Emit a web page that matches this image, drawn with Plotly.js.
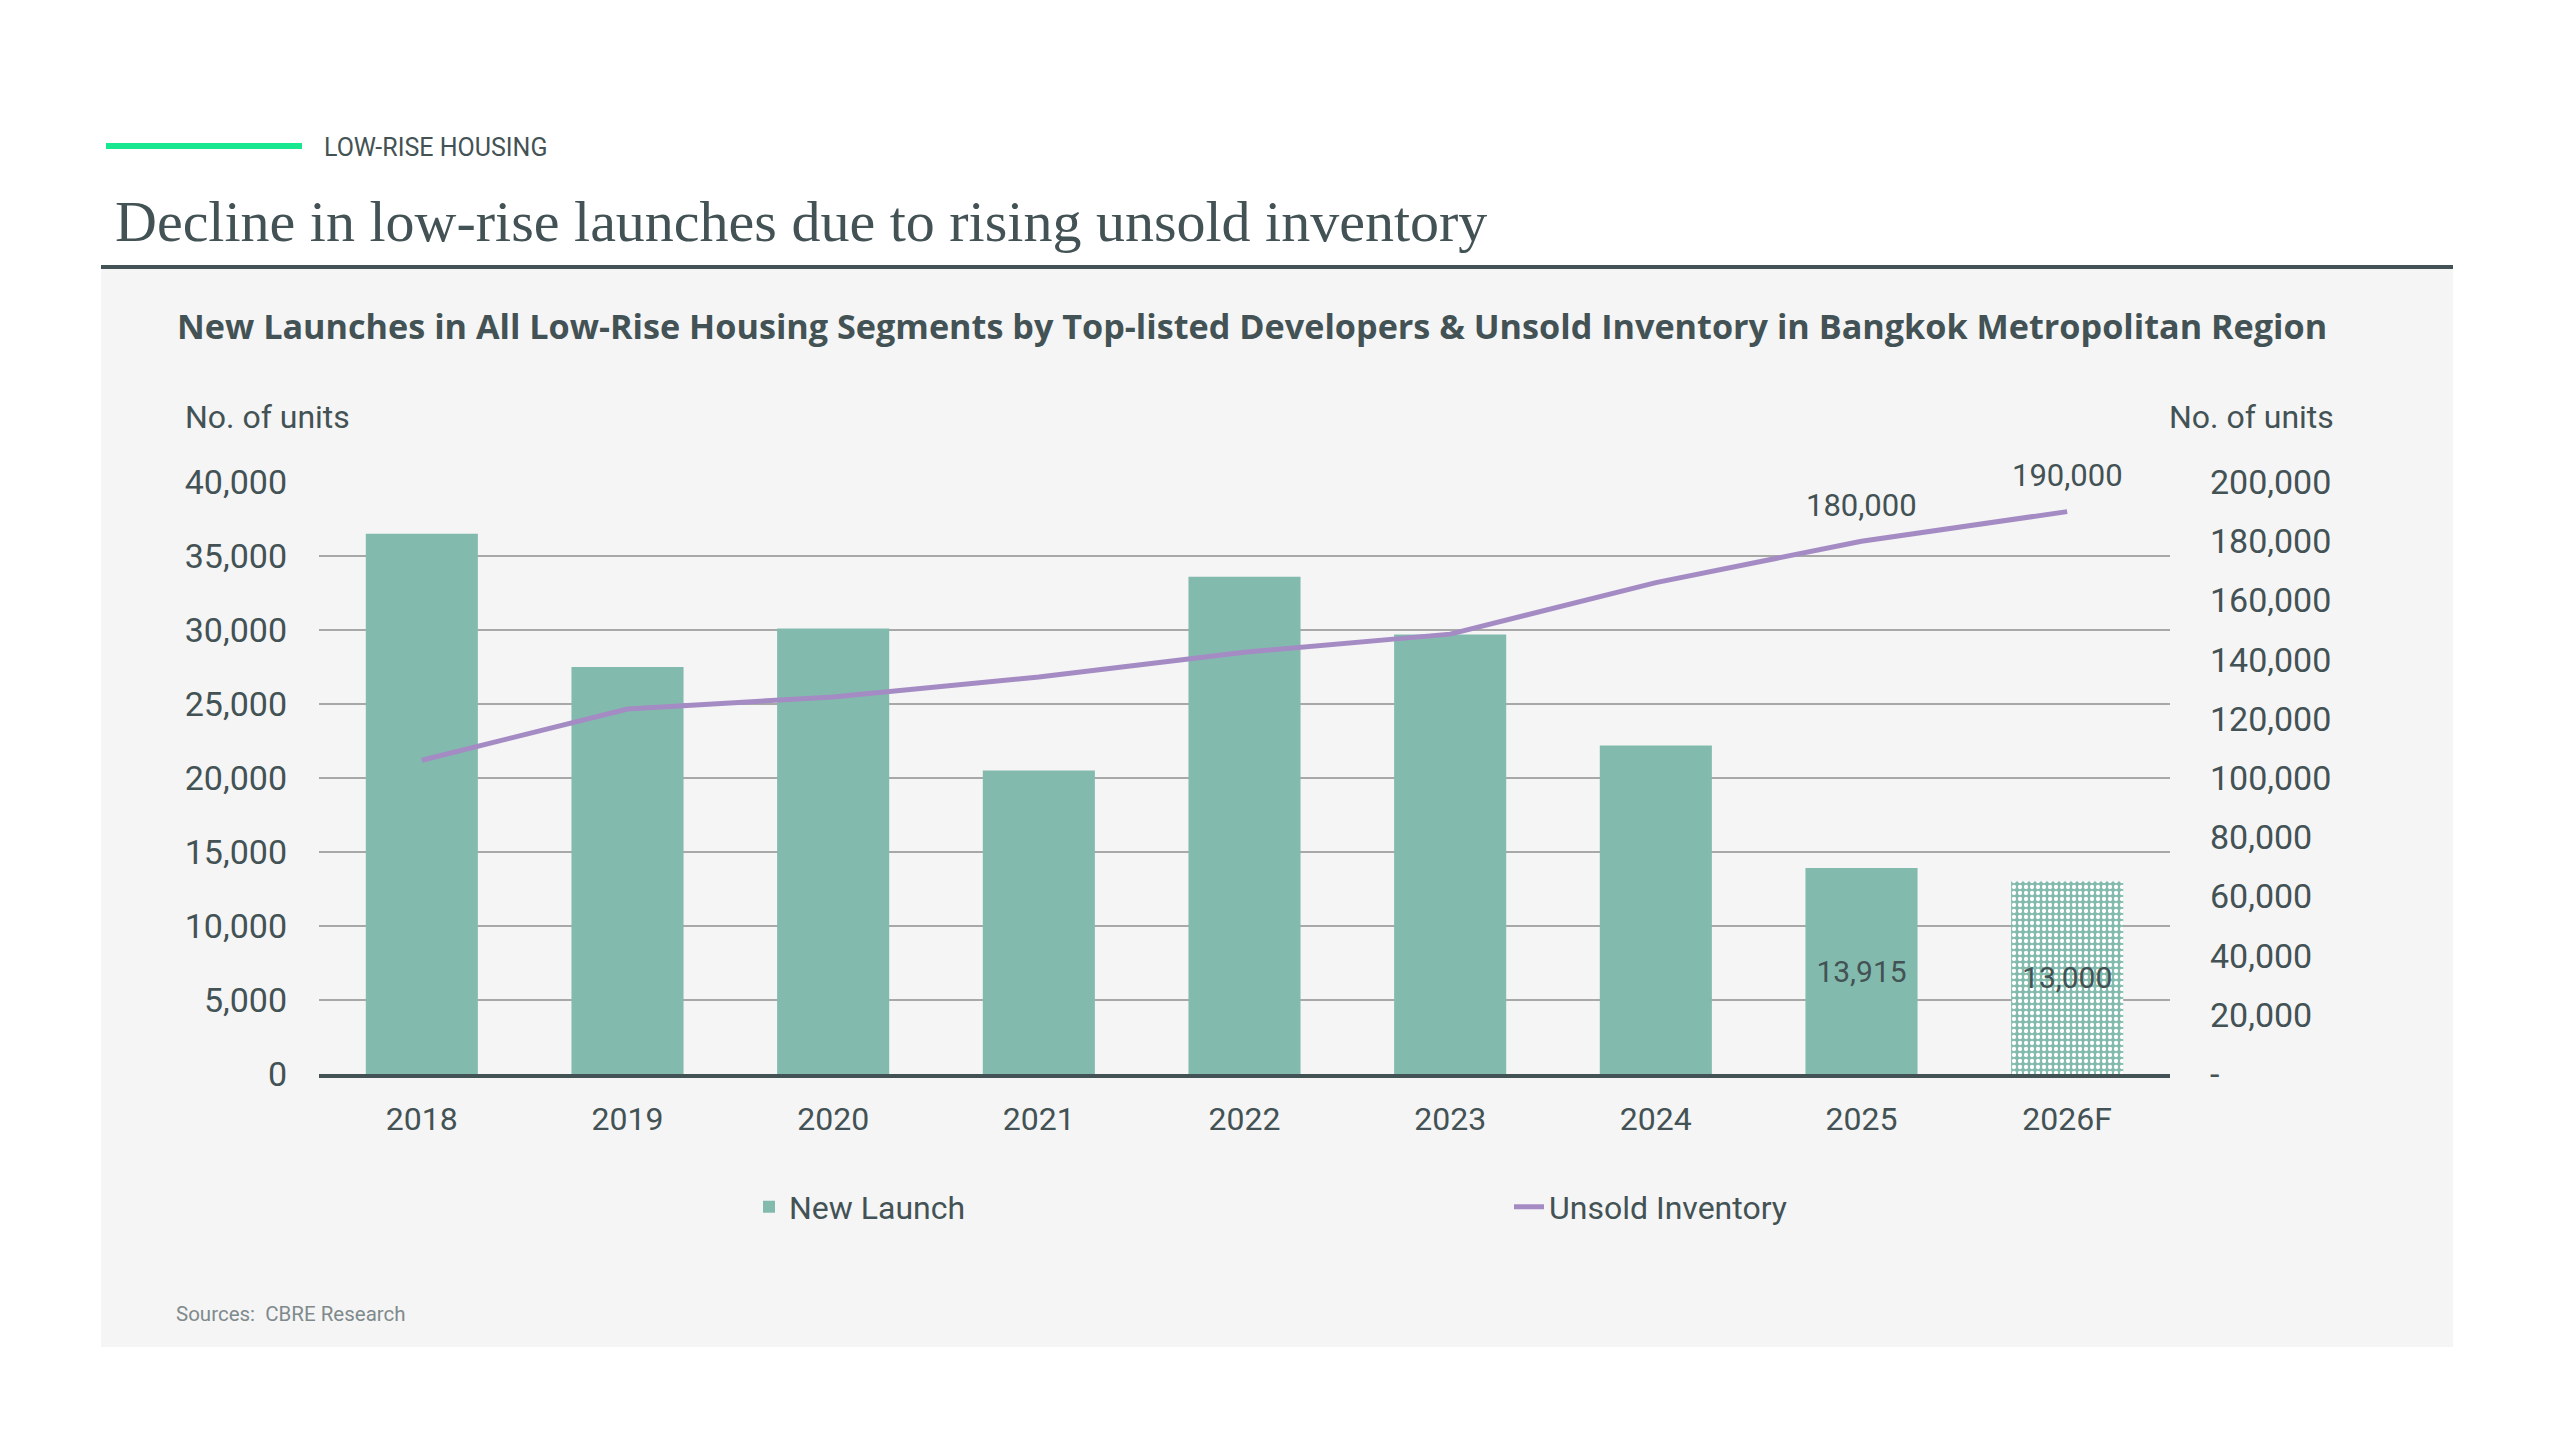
<!DOCTYPE html>
<html>
<head>
<meta charset="utf-8">
<script src="https://cdn.plot.ly/plotly-3.0.1.min.js"></script>
<style>
	html, body { margin: 0; padding: 0; background: #ffffff; }
	#chart { width: 2560px; height: 1440px; }
</style>
</head>
<body>
<div id="chart"></div>
<script>
// data
var years = ['2018', '2019', '2020', '2021', '2022', '2023', '2024', '2025', '2026F'];
var new_launch = [36500, 27500, 30100, 20500, 33600, 29700, 22200, 13915, 13000];
var unsold_inventory = [106000, 123300, 127400, 134100, 142500, 148600, 166000, 180000, 190000];
var launch_labels = ['', '', '', '', '', '', '', '13,915', '13,000'];
var inventory_labels = ['', '', '', '', '', '', '', '180,000', '190,000'];
var bar_patterns = ['', '', '', '', '', '', '', '', '.'];

var left_tickvals = [0, 5000, 10000, 15000, 20000, 25000, 30000, 35000, 40000];
var right_tickvals = [0, 20000, 40000, 60000, 80000, 100000, 120000, 140000, 160000, 180000, 200000];
var right_ticktext = ['-', '20,000', '40,000', '60,000', '80,000', '100,000', '120,000', '140,000', '160,000', '180,000', '200,000'];

var text_colour = '#435254';
var bar_colour = '#82bbad';
var line_colour = '#a58bc4';

// plot area in page pixels
var plot_left = 319, plot_right = 2170, plot_top = 482, plot_bottom = 1074;
var W = 2560, H = 1440;

function px(x) { return (x - plot_left) / (plot_right - plot_left); }
function py(y) { return (plot_bottom - y) / (plot_bottom - plot_top); }

var launches = {
	x: years,
	y: new_launch,
	type: 'bar',
	name: 'New Launch',
	marker: {
		color: bar_colour,
		line: { width: 0 },
		pattern: {
			shape: bar_patterns,
			fillmode: 'replace',
			bgcolor: bar_colour,
			fgcolor: '#ffffff',
			size: 6,
			solidity: 0.4
		}
	},
	text: launch_labels,
	textposition: 'inside',
	insidetextanchor: 'middle',
	textangle: 0,
	textfont: { family: 'Roboto, sans-serif', size: 30, color: text_colour },
	yaxis: 'y',
	hoverinfo: 'x+y'
};

var inventory = {
	x: years,
	y: unsold_inventory,
	type: 'scatter',
	mode: 'lines',
	name: 'Unsold Inventory',
	line: { color: line_colour, width: 5 },
	yaxis: 'y2',
	hoverinfo: 'x+y'
};

// value labels above the last two points of the line
var annotations = [];
for (var i = 0; i < years.length; i++) {
	if (inventory_labels[i] !== '') {
		annotations.push({
			x: i,
			y: unsold_inventory[i],
			xref: 'x',
			yref: 'y2',
			text: inventory_labels[i],
			showarrow: false,
			yshift: 36,
			font: { family: 'Roboto, sans-serif', size: 31, color: text_colour }
		});
	}
}

// headings and notes
annotations.push(
	{
		xref: 'paper', yref: 'paper', x: px(322), y: py(147), xanchor: 'left', yanchor: 'middle',
		text: 'LOW-RISE HOUSING', showarrow: false,
		font: { family: 'Roboto, sans-serif', size: 25, color: text_colour }
	},
	{
		xref: 'paper', yref: 'paper', x: px(113), y: py(222), xanchor: 'left', yanchor: 'middle',
		text: 'Decline in low-rise launches due to rising unsold inventory', showarrow: false,
		font: { family: 'Liberation Serif, serif', size: 58, color: text_colour }
	},
	{
		xref: 'paper', yref: 'paper', x: px(175), y: py(326), xanchor: 'left', yanchor: 'middle',
		text: 'New Launches in All Low-Rise Housing Segments by Top-listed Developers &amp; Unsold Inventory in Bangkok Metropolitan Region',
		showarrow: false,
		font: { family: 'Open Sans, sans-serif', size: 34.2, weight: 700, color: text_colour }
	},
	{
		xref: 'paper', yref: 'paper', x: px(183), y: py(417), xanchor: 'left', yanchor: 'middle',
		text: 'No. of units', showarrow: false,
		font: { family: 'Roboto, sans-serif', size: 32, color: text_colour }
	},
	{
		xref: 'paper', yref: 'paper', x: px(2336), y: py(417), xanchor: 'right', yanchor: 'middle',
		text: 'No. of units', showarrow: false,
		font: { family: 'Roboto, sans-serif', size: 32, color: text_colour }
	},
	{
		xref: 'paper', yref: 'paper', x: px(174), y: py(1314), xanchor: 'left', yanchor: 'middle',
		text: 'Sources:&nbsp; CBRE Research', showarrow: false,
		font: { family: 'Roboto, sans-serif', size: 20.5, color: '#7f8a8c' }
	}
);

var shapes = [
	// grey panel
	{
		type: 'rect', xref: 'paper', yref: 'paper', layer: 'below',
		x0: px(101), x1: px(2453), y0: py(268), y1: py(1347),
		fillcolor: '#f5f5f5', line: { width: 0 }
	},
	// dark rule under the title
	{
		type: 'rect', xref: 'paper', yref: 'paper', layer: 'below',
		x0: px(101), x1: px(2453), y0: py(265), y1: py(269),
		fillcolor: '#435254', line: { width: 0 }
	},
	// green accent
	{
		type: 'rect', xref: 'paper', yref: 'paper', layer: 'below',
		x0: px(106), x1: px(302), y0: py(143), y1: py(149),
		fillcolor: '#17e88f', line: { width: 0 }
	}
];

var layout = {
	width: W,
	height: H,
	margin: { l: plot_left, r: W - plot_right, t: plot_top, b: H - plot_bottom, pad: 0 },
	paper_bgcolor: '#ffffff',
	plot_bgcolor: '#f5f5f5',
	font: { family: 'Roboto, sans-serif', color: text_colour },
	bargap: 0.455,
	xaxis: {
		type: 'category',
		range: [-0.5, years.length - 0.5],
		autorange: false,
		showgrid: false,
		showline: true,
		linecolor: '#435254',
		linewidth: 4,
		layer: 'above traces',
		ticks: '',
		ticklabelstandoff: 14,
		tickfont: { size: 32, color: text_colour },
		fixedrange: true
	},
	yaxis: {
		range: [0, 40000],
		autorange: false,
		tickvals: left_tickvals,
		tickformat: ',',
		showgrid: true,
		gridcolor: '#a8a8a8',
		gridwidth: 2,
		zeroline: false,
		showline: false,
		ticks: '',
		ticklabelstandoff: 31,
		tickfont: { size: 34, color: text_colour },
		fixedrange: true
	},
	yaxis2: {
		range: [0, 200000],
		autorange: false,
		overlaying: 'y',
		side: 'right',
		tickvals: right_tickvals,
		ticktext: right_ticktext,
		showgrid: false,
		zeroline: false,
		showline: false,
		ticks: '',
		ticklabelstandoff: 39,
		tickfont: { size: 34, color: text_colour },
		fixedrange: true
	},
	showlegend: true,
	legend: {
		orientation: 'h',
		x: px(749),
		y: py(1207),
		xanchor: 'left',
		yanchor: 'middle',
		entrywidth: 715,
		entrywidthmode: 'pixels',
		bgcolor: 'rgba(0,0,0,0)',
		font: { size: 32, color: text_colour },
		traceorder: 'normal'
	},
	annotations: annotations,
	shapes: shapes
};

var config = { displayModeBar: false, staticPlot: true };

Plotly.newPlot('chart', [launches, inventory], layout, config);
</script>
</body>
</html>
